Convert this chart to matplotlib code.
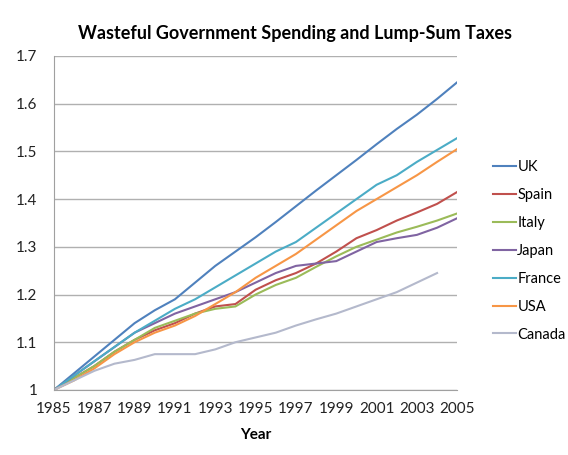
import matplotlib.pyplot as plt

plt.rcParams['font.family'] = ['Lato', 'DejaVu Sans']

# Index values (1985 = 1)
years = list(range(1985, 2006))
uk = [1.0, 1.035, 1.07, 1.105, 1.14, 1.167, 1.19, 1.225, 1.26, 1.29, 1.32,
      1.352, 1.385, 1.418, 1.45, 1.482, 1.515, 1.547, 1.577, 1.61, 1.645]
spain = [1.0, 1.025, 1.05, 1.08, 1.105, 1.125, 1.14, 1.16, 1.175, 1.18, 1.21,
         1.23, 1.245, 1.265, 1.29, 1.318, 1.335, 1.355, 1.372, 1.39, 1.415]
italy = [1.0, 1.025, 1.05, 1.08, 1.105, 1.13, 1.145, 1.16, 1.17, 1.175, 1.2,
         1.22, 1.235, 1.258, 1.28, 1.3, 1.315, 1.33, 1.342, 1.355, 1.37]
japan = [1.0, 1.03, 1.06, 1.09, 1.12, 1.14, 1.16, 1.175, 1.19, 1.205, 1.225,
         1.245, 1.26, 1.265, 1.27, 1.29, 1.31, 1.318, 1.325, 1.34, 1.36]
france = [1.0, 1.03, 1.06, 1.09, 1.12, 1.145, 1.17, 1.19, 1.215, 1.24, 1.265,
          1.29, 1.31, 1.34, 1.37, 1.4, 1.43, 1.45, 1.478, 1.503, 1.528]
usa = [1.0, 1.02, 1.045, 1.075, 1.1, 1.12, 1.135, 1.155, 1.18, 1.205, 1.235,
       1.26, 1.285, 1.315, 1.345, 1.375, 1.4, 1.425, 1.45, 1.478, 1.505]
canada = [1.0, 1.02, 1.04, 1.055, 1.063, 1.075, 1.075, 1.075, 1.085, 1.1, 1.11,
          1.12, 1.135, 1.148, 1.16, 1.175, 1.19, 1.205, 1.225, 1.245, None]

series = [("UK", uk, "#4F81BD"), ("Spain", spain, "#C0504D"),
          ("Italy", italy, "#9BBB59"), ("Japan", japan, "#8064A2"),
          ("France", france, "#4BACC6"), ("USA", usa, "#F79646"),
          ("Canada", canada, "#B4B9CC")]

fig = plt.figure(figsize=(5.68, 4.55), dpi=100)
ax = fig.add_axes([0.095, 0.143, 0.71, 0.734])

for name, vals, col in series:
    xs = [y for y, v in zip(years, vals) if v is not None]
    ys = [v for v in vals if v is not None]
    ax.plot(xs, ys, color=col, lw=1.5, label=name)

ax.set_xlim(1985, 2005)
ax.set_ylim(1.0, 1.7)
ax.set_xticks(range(1985, 2006, 2))
ax.set_yticks([1, 1.1, 1.2, 1.3, 1.4, 1.5, 1.6, 1.7])
ax.set_yticklabels(["1", "1.1", "1.2", "1.3", "1.4", "1.5", "1.6", "1.7"])
ax.grid(axis='y', color='#B0B0B0', lw=1)
ax.set_axisbelow(True)
for s in ['top', 'right']:
    ax.spines[s].set_visible(False)
for s in ['left', 'bottom']:
    ax.spines[s].set_color('#A0A0A0')
ax.tick_params(axis='both', labelsize=11, length=0, labelcolor='#222222')
ax.tick_params(axis='y', pad=12)
ax.tick_params(axis='x', pad=9)

ax.set_xlabel("Year", fontsize=11, fontweight='bold', labelpad=8)
fig.suptitle("Wasteful Government Spending and Lump-Sum Taxes", x=0.52, y=0.945,
             fontsize=13, fontweight='bold')

ax.legend(loc='center left', bbox_to_anchor=(1.055, 0.416), frameon=False,
          fontsize=10.5, handlelength=1.6, handletextpad=0.1, labelspacing=0.95)

fig.savefig("out.png", dpi=100)
